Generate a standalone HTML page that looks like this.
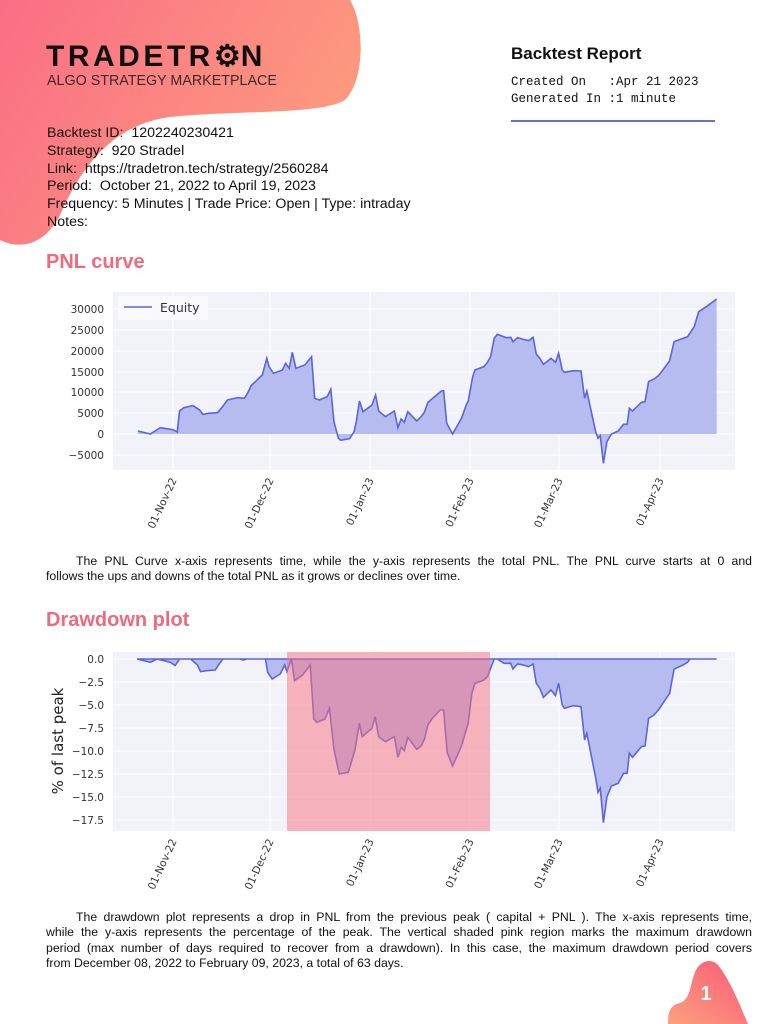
<!DOCTYPE html>
<html><head><meta charset="utf-8"><style>
body{margin:0;width:768px;height:1024px;position:relative;background:#fff;overflow:hidden;font-family:"Liberation Sans",sans-serif;color:#111}
.a{position:absolute;white-space:nowrap}
.info{left:47px;top:125px;font-size:14.2px;line-height:17.8px}
.mono{font-family:"Liberation Mono",monospace;font-size:12.5px;line-height:17px;white-space:pre}
.h{font-size:20px;font-weight:bold;color:#f06a7d}
.p{position:absolute;left:46px;width:706px;font-size:12.3px;line-height:15.3px;color:#111}
.p div{text-align:justify;text-align-last:justify;white-space:nowrap}
.p div.l{text-align-last:left}
</style></head><body>
<svg class="a" style="left:0;top:0" width="768" height="1024">
<defs>
<linearGradient id="g" x1="0" y1="0" x2="1" y2="0.4"><stop offset="0" stop-color="#fa6e85"/><stop offset="1" stop-color="#fd9a7e"/></linearGradient>
<linearGradient id="g2" x1="1" y1="0" x2="0" y2="1"><stop offset="0" stop-color="#f95a78"/><stop offset="1" stop-color="#fda07f"/></linearGradient>
</defs>
<path d="M0,0 L350,0 C365,25 365,80 345,100 C320,115 240,110 170,117 C110,125 80,170 60,215 C45,245 20,250 0,240 Z" fill="url(#g)"/>
<path d="M668,1024 C668,1012 670,1005 680,1003 C690,1000 690,985 695,972 C700,960 712,958 718,965 C730,980 740,1005 748,1024 Z" fill="url(#g2)"/>
</svg>
<div class="a" style="left:46px;top:41px;font-size:30px;font-weight:bold;letter-spacing:3.5px;color:#111;line-height:32px">TRADETR<span style="letter-spacing:0">⚙</span>N</div>
<div class="a" style="left:47px;top:73px;font-size:14.3px;color:#3a2a2a">ALGO STRATEGY MARKETPLACE</div>
<div class="a" style="left:511px;top:44px;font-size:17px;font-weight:bold">Backtest Report</div>
<div class="a mono" style="left:511px;top:74px">Created On   :Apr 21 2023
Generated In :1 minute</div>
<div class="a" style="left:511px;top:120px;width:204px;height:2px;background:#6770cc"></div>
<div class="a info">Backtest ID:&nbsp; 1202240230421<br>Strategy:&nbsp; 920 Stradel<br>Link:&nbsp; https://tradetron.tech/strategy/2560284<br>Period:&nbsp; October 21, 2022 to April 19, 2023<br>Frequency: 5 Minutes | Trade Price: Open | Type: intraday<br>Notes:</div>
<div class="a h" style="left:46px;top:251px">PNL curve</div>
<div class="a h" style="left:46px;top:609px">Drawdown plot</div>

<svg class="a" style="left:0;top:0" width="768" height="1024" font-family="DejaVu Sans,sans-serif">
<rect x="113" y="292" width="622" height="178" fill="#f2f3f8"/>
<g stroke="#fff" stroke-width="1">
<line x1="113" x2="735" y1="309" y2="309"/><line x1="113" x2="735" y1="330" y2="330"/><line x1="113" x2="735" y1="351" y2="351"/><line x1="113" x2="735" y1="372" y2="372"/><line x1="113" x2="735" y1="392" y2="392"/><line x1="113" x2="735" y1="413" y2="413"/><line x1="113" x2="735" y1="434" y2="434"/><line x1="113" x2="735" y1="455" y2="455"/>
<line y1="292" y2="470" x1="173" x2="173"/><line y1="292" y2="470" x1="270" x2="270"/><line y1="292" y2="470" x1="370" x2="370"/><line y1="292" y2="470" x1="470" x2="470"/><line y1="292" y2="470" x1="559" x2="559"/><line y1="292" y2="470" x1="660" x2="660"/>
</g>
<g font-size="10.5" fill="#333" text-anchor="end">
<text x="104" y="313">30000</text><text x="104" y="334">25000</text><text x="104" y="355">20000</text><text x="104" y="376">15000</text><text x="104" y="396">10000</text><text x="104" y="417">5000</text><text x="104" y="438">0</text><text x="104" y="459">−5000</text>
</g>
<g transform="translate(43,285) scale(0.4476,0.3333)">
<path d="M212,447 L212,438 L240,447 L262,428 L290,434 L300,441 L305,378 L315,368 L335,362 L350,375 L357,388 L370,385 L390,383 L400,367 L412,345 L435,338 L450,340 L458,322 L465,302 L490,270 L500,220 L505,245 L515,265 L535,255 L542,235 L550,250 L557,202 L565,250 L585,240 L600,215 L607,340 L617,345 L635,335 L643,313 L650,410 L660,460 L665,466 L685,461 L695,440 L700,410 L707,348 L715,380 L735,360 L743,330 L750,378 L765,395 L785,378 L793,428 L800,402 L807,412 L815,380 L835,408 L845,395 L852,382 L860,352 L875,335 L890,318 L895,317 L902,415 L915,447 L935,400 L945,362 L950,348 L960,275 L965,255 L985,245 L993,232 L1000,215 L1008,160 L1015,148 L1035,158 L1045,157 L1050,170 L1060,158 L1070,162 L1085,167 L1095,157 L1102,207 L1110,220 L1118,238 L1135,220 L1145,232 L1152,205 L1160,255 L1165,262 L1185,257 L1202,258 L1210,340 L1215,318 L1235,442 L1240,460 L1245,452 L1252,535 L1260,470 L1270,447 L1285,438 L1297,418 L1305,418 L1310,370 L1317,378 L1337,352 L1345,350 L1353,290 L1365,282 L1375,272 L1385,255 L1400,227 L1410,170 L1430,160 L1440,155 L1455,125 L1465,80 L1485,62 L1495,52 L1505,42 L1505,447 Z" fill="#b6bbf0"/>
<path d="M212,438 L240,447 L262,428 L290,434 L300,441 L305,378 L315,368 L335,362 L350,375 L357,388 L370,385 L390,383 L400,367 L412,345 L435,338 L450,340 L458,322 L465,302 L490,270 L500,220 L505,245 L515,265 L535,255 L542,235 L550,250 L557,202 L565,250 L585,240 L600,215 L607,340 L617,345 L635,335 L643,313 L650,410 L660,460 L665,466 L685,461 L695,440 L700,410 L707,348 L715,380 L735,360 L743,330 L750,378 L765,395 L785,378 L793,428 L800,402 L807,412 L815,380 L835,408 L845,395 L852,382 L860,352 L875,335 L890,318 L895,317 L902,415 L915,447 L935,400 L945,362 L950,348 L960,275 L965,255 L985,245 L993,232 L1000,215 L1008,160 L1015,148 L1035,158 L1045,157 L1050,170 L1060,158 L1070,162 L1085,167 L1095,157 L1102,207 L1110,220 L1118,238 L1135,220 L1145,232 L1152,205 L1160,255 L1165,262 L1185,257 L1202,258 L1210,340 L1215,318 L1235,442 L1240,460 L1245,452 L1252,535 L1260,470 L1270,447 L1285,438 L1297,418 L1305,418 L1310,370 L1317,378 L1337,352 L1345,350 L1353,290 L1365,282 L1375,272 L1385,255 L1400,227 L1410,170 L1430,160 L1440,155 L1455,125 L1465,80 L1485,62 L1495,52 L1505,42" fill="none" stroke="#5b66d8" stroke-width="1.6" vector-effect="non-scaling-stroke"/>
</g>
<rect x="118" y="296" width="90" height="24" fill="#fafafc" rx="2"/>
<line x1="124" x2="152" y1="307" y2="307" stroke="#5b66d8" stroke-width="1.5"/>
<text x="160" y="312" font-size="12.5" fill="#333">Equity</text>
<g font-size="10.5" fill="#333" text-anchor="end">
<text transform="translate(177,480) rotate(-65)">01-Nov-22</text>
<text transform="translate(274,480) rotate(-65)">01-Dec-22</text>
<text transform="translate(374,480) rotate(-65)">01-Jan-23</text>
<text transform="translate(474,480) rotate(-65)">01-Feb-23</text>
<text transform="translate(563,480) rotate(-65)">01-Mar-23</text>
<text transform="translate(664,480) rotate(-65)">01-Apr-23</text>
</g>

<rect x="113" y="652" width="622" height="179" fill="#f2f3f8"/>
<g stroke="#fff" stroke-width="1">
<line x1="113" x2="735" y1="659" y2="659"/><line x1="113" x2="735" y1="682" y2="682"/><line x1="113" x2="735" y1="705" y2="705"/><line x1="113" x2="735" y1="728" y2="728"/><line x1="113" x2="735" y1="751" y2="751"/><line x1="113" x2="735" y1="774" y2="774"/><line x1="113" x2="735" y1="797" y2="797"/><line x1="113" x2="735" y1="820" y2="820"/>
<line y1="652" y2="831" x1="173" x2="173"/><line y1="652" y2="831" x1="270" x2="270"/><line y1="652" y2="831" x1="370" x2="370"/><line y1="652" y2="831" x1="470" x2="470"/><line y1="652" y2="831" x1="559" x2="559"/><line y1="652" y2="831" x1="660" x2="660"/>
</g>
<g font-size="10.5" fill="#333" text-anchor="end">
<text x="104" y="663">0.0</text><text x="104" y="686">−2.5</text><text x="104" y="709">−5.0</text><text x="104" y="732">−7.5</text><text x="104" y="755">−10.0</text><text x="104" y="778">−12.5</text><text x="104" y="801">−15.0</text><text x="104" y="824">−17.5</text>
</g>
<text transform="translate(63,741) rotate(-90)" font-size="15" fill="#222" text-anchor="middle">% of last peak</text>
<g transform="translate(43,640) scale(0.4476,0.3333)">
<path d="M210,57 L240,67 L255,57 L270,62 L285,67 L295,77 L305,57 L330,57 L345,75 L352,95 L365,92 L385,90 L392,75 L402,57 L440,57 L448,60 L455,57 L497,57 L502,97 L512,117 L530,102 L540,75 L545,95 L555,57 L562,122 L580,105 L597,75 L605,237 L612,247 L630,237 L640,205 L650,328 L662,402 L682,397 L697,330 L707,250 L713,290 L735,265 L742,230 L750,290 L765,305 L785,290 L793,352 L800,322 L807,332 L815,292 L835,328 L845,318 L852,298 L860,255 L870,235 L887,210 L895,210 L903,337 L915,378 L935,318 L945,272 L950,250 L958,160 L965,130 L985,120 L993,110 L1008,57 L1015,57 L1030,70 L1045,70 L1050,87 L1060,72 L1070,74 L1085,80 L1095,72 L1102,130 L1110,145 L1118,172 L1135,150 L1145,167 L1152,130 L1160,195 L1165,205 L1185,197 L1202,200 L1210,300 L1215,280 L1235,415 L1240,457 L1245,445 L1252,548 L1260,470 L1270,438 L1285,430 L1297,400 L1305,400 L1310,340 L1317,352 L1337,320 L1345,318 L1353,235 L1365,225 L1375,210 L1385,190 L1400,160 L1410,87 L1430,75 L1440,67 L1445,57 L1505,57 Z" fill="#b6bbf0" stroke="#5b66d8" stroke-width="1.6" vector-effect="non-scaling-stroke"/>
</g>
<rect x="287" y="652" width="203" height="179" fill="#f7707f" fill-opacity="0.5"/>
<g font-size="10.5" fill="#333" text-anchor="end">
<text transform="translate(177,841) rotate(-65)">01-Nov-22</text>
<text transform="translate(274,841) rotate(-65)">01-Dec-22</text>
<text transform="translate(374,841) rotate(-65)">01-Jan-23</text>
<text transform="translate(474,841) rotate(-65)">01-Feb-23</text>
<text transform="translate(563,841) rotate(-65)">01-Mar-23</text>
<text transform="translate(664,841) rotate(-65)">01-Apr-23</text>
</g>
<text x="706" y="1000" font-size="20" font-weight="bold" fill="#fff" text-anchor="middle" font-family="Liberation Sans,sans-serif">1</text>
</svg>

<div class="p" style="top:554px"><div style="padding-left:30px">The PNL Curve x-axis represents time, while the y-axis represents the total PNL. The PNL curve starts at 0 and</div><div class="l">follows the ups and downs of the total PNL as it grows or declines over time.</div></div>
<div class="p" style="top:910px"><div style="padding-left:30px">The drawdown plot represents a drop in PNL from the previous peak ( capital + PNL ). The x-axis represents time,</div><div>while the y-axis represents the percentage of the peak. The vertical shaded pink region marks the maximum drawdown</div><div>period (max number of days required to recover from a drawdown). In this case, the maximum drawdown period covers</div><div class="l">from December 08, 2022 to February 09, 2023, a total of 63 days.</div></div>
</body></html>
